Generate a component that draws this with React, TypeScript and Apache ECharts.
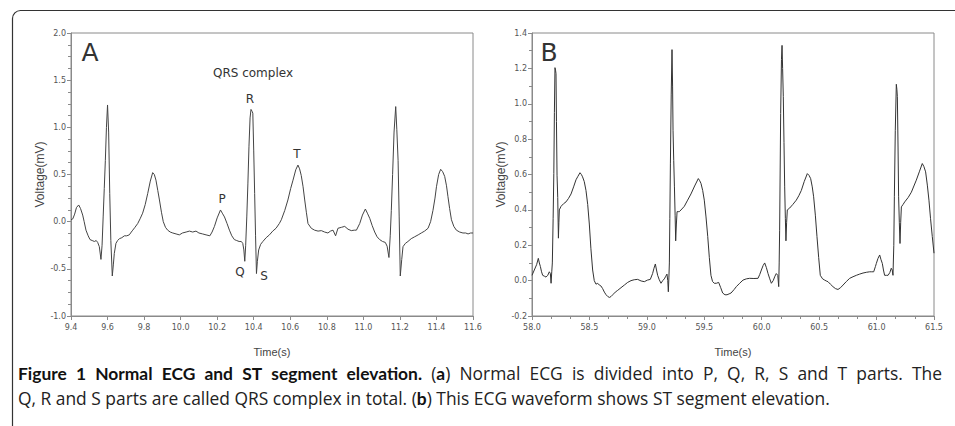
import React, { useEffect, useRef } from "react";
import * as echarts from "echarts";

// Panel A: normal ECG (time in s, voltage in mV)
const timeA = [
  9.400, 9.410, 9.420, 9.430, 9.442, 9.452, 9.464, 9.472, 9.482, 9.494, 9.504, 9.516, 9.528, 9.538, 9.546, 9.555,
  9.564, 9.570, 9.576, 9.582, 9.588, 9.594, 9.600, 9.606, 9.612, 9.618, 9.626, 9.632, 9.637, 9.646, 9.655, 9.665,
  9.678, 9.692, 9.705, 9.719, 9.730, 9.738, 9.750, 9.765, 9.778, 9.792, 9.806, 9.820, 9.834, 9.847, 9.856, 9.865,
  9.875, 9.884, 9.895, 9.905, 9.917, 9.929, 9.943, 9.957, 9.975, 9.993, 10.010, 10.030, 10.048, 10.066, 10.084, 10.100,
  10.120, 10.139, 10.160, 10.172, 10.185, 10.200, 10.218, 10.228, 10.240, 10.254, 10.267, 10.280, 10.294, 10.307, 10.320, 10.332,
  10.340, 10.346, 10.351, 10.356, 10.362, 10.368, 10.374, 10.380, 10.385, 10.391, 10.395, 10.400, 10.405, 10.410, 10.415, 10.420,
  10.427, 10.438, 10.450, 10.468, 10.486, 10.504, 10.522, 10.540, 10.551, 10.570, 10.587, 10.602, 10.615, 10.630, 10.642, 10.651,
  10.660, 10.670, 10.679, 10.688, 10.697, 10.715, 10.733, 10.752, 10.770, 10.788, 10.806, 10.820, 10.834, 10.848, 10.861, 10.880,
  10.898, 10.916, 10.934, 10.950, 10.962, 10.980, 10.995, 11.011, 11.022, 11.035, 11.048, 11.062, 11.075, 11.089, 11.105, 11.120,
  11.130, 11.140, 11.147, 11.153, 11.160, 11.168, 11.177, 11.183, 11.190, 11.196, 11.202, 11.210, 11.217, 11.230, 11.244, 11.262,
  11.281, 11.300, 11.317, 11.335, 11.354, 11.368, 11.381, 11.392, 11.400, 11.412, 11.423, 11.434, 11.445, 11.455, 11.463, 11.472,
  11.482, 11.495, 11.509, 11.527, 11.545, 11.560, 11.573, 11.587, 11.600,
];
const voltA = [
  0.02, 0.03, 0.08, 0.15, 0.177, 0.14, 0.07, 0.00, -0.09, -0.15, -0.19, -0.20, -0.21, -0.20, -0.22, -0.265,
  -0.40, -0.25, 0.05, 0.35, 0.65, 1.00, 1.237, 0.95, 0.30, -0.20, -0.576, -0.45, -0.336, -0.23, -0.20, -0.18,
  -0.17, -0.15, -0.15, -0.14, -0.11, -0.09, -0.06, -0.02, 0.03, 0.09, 0.18, 0.30, 0.43, 0.52, 0.50, 0.44,
  0.33, 0.23, 0.10, 0.00, -0.06, -0.09, -0.11, -0.12, -0.13, -0.14, -0.12, -0.11, -0.10, -0.11, -0.10, -0.12,
  -0.13, -0.14, -0.15, -0.11, -0.05, 0.04, 0.124, 0.09, 0.05, -0.02, -0.09, -0.15, -0.19, -0.20, -0.21, -0.21,
  -0.23, -0.30, -0.42, -0.25, 0.05, 0.40, 0.80, 1.10, 1.19, 1.17, 1.15, 0.75, 0.30, -0.15, -0.55, -0.42,
  -0.30, -0.24, -0.21, -0.17, -0.14, -0.10, -0.07, -0.02, 0.02, 0.12, 0.23, 0.35, 0.44, 0.55, 0.60, 0.56,
  0.49, 0.37, 0.23, 0.10, -0.02, -0.07, -0.09, -0.10, -0.095, -0.11, -0.12, -0.10, -0.09, -0.15, -0.07, -0.06,
  -0.05, -0.08, -0.095, -0.09, -0.09, -0.02, 0.07, 0.134, 0.09, 0.035, -0.04, -0.11, -0.16, -0.19, -0.21, -0.22,
  -0.26, -0.38, -0.15, 0.12, 0.50, 0.95, 1.22, 0.98, 0.65, 0.05, -0.576, -0.40, -0.265, -0.23, -0.21, -0.18,
  -0.16, -0.14, -0.12, -0.10, -0.07, 0.00, 0.12, 0.25, 0.37, 0.50, 0.555, 0.53, 0.48, 0.38, 0.265, 0.14,
  0.02, -0.05, -0.09, -0.11, -0.12, -0.12, -0.13, -0.12, -0.12,
];

// Panel B: ST segment elevation
const timeB = [
  58.000, 58.020, 58.040, 58.055, 58.064, 58.073, 58.083, 58.093, 58.108, 58.122, 58.137, 58.151, 58.160, 58.166, 58.172, 58.177,
  58.184, 58.190, 58.195, 58.200, 58.205, 58.209, 58.213, 58.218, 58.224, 58.230, 58.234, 58.238, 58.253, 58.275, 58.296, 58.318,
  58.340, 58.362, 58.383, 58.400, 58.418, 58.430, 58.440, 58.455, 58.470, 58.485, 58.499, 58.513, 58.528, 58.542, 58.557, 58.572,
  58.586, 58.600, 58.615, 58.630, 58.645, 58.660, 58.674, 58.688, 58.703, 58.725, 58.746, 58.775, 58.804, 58.833, 58.862, 58.890,
  58.920, 58.950, 58.978, 59.005, 59.030, 59.050, 59.062, 59.074, 59.084, 59.094, 59.108, 59.123, 59.138, 59.152, 59.165, 59.175,
  59.182, 59.187, 59.192, 59.196, 59.200, 59.205, 59.212, 59.219, 59.224, 59.228, 59.234, 59.240, 59.246, 59.251, 59.257, 59.263,
  59.273, 59.283, 59.305, 59.326, 59.355, 59.384, 59.416, 59.448, 59.460, 59.471, 59.486, 59.500, 59.515, 59.530, 59.544, 59.558,
  59.572, 59.587, 59.605, 59.625, 59.643, 59.660, 59.680, 59.698, 59.716, 59.733, 59.760, 59.779, 59.808, 59.837, 59.866, 59.895,
  59.932, 59.968, 59.983, 59.997, 60.012, 60.026, 60.040, 60.055, 60.070, 60.084, 60.100, 60.115, 60.127, 60.140, 60.148, 60.152,
  60.156, 60.165, 60.172, 60.177, 60.182, 60.188, 60.194, 60.200, 60.206, 60.211, 60.217, 60.223, 60.243, 60.270, 60.301, 60.323,
  60.345, 60.370, 60.397, 60.412, 60.426, 60.440, 60.452, 60.467, 60.481, 60.496, 60.510, 60.530, 60.548, 60.562, 60.577, 60.598,
  60.620, 60.642, 60.664, 60.686, 60.708, 60.737, 60.766, 60.795, 60.824, 60.853, 60.882, 60.911, 60.940, 60.958, 60.975, 60.990,
  60.998, 61.012, 61.027, 61.038, 61.050, 61.060, 61.070, 61.085, 61.100, 61.115, 61.128, 61.136, 61.143, 61.150, 61.155, 61.163,
  61.172, 61.177, 61.181, 61.187, 61.192, 61.198, 61.204, 61.210, 61.216, 61.230, 61.245, 61.275, 61.303, 61.325, 61.346, 61.372,
  61.398, 61.412, 61.427, 61.442, 61.456, 61.470, 61.485, 61.500,
];
const voltB = [
  0.03, 0.06, 0.09, 0.126, 0.10, 0.08, 0.05, 0.03, 0.025, 0.02, 0.03, 0.05, 0.04, -0.015, 0.05, 0.10,
  0.35, 0.605, 0.95, 1.204, 1.19, 1.17, 0.90, 0.596, 0.47, 0.24, 0.33, 0.40, 0.42, 0.435, 0.445, 0.465,
  0.49, 0.53, 0.57, 0.59, 0.61, 0.60, 0.587, 0.56, 0.51, 0.43, 0.32, 0.18, 0.06, 0.00, -0.02, -0.015,
  -0.025, -0.03, -0.045, -0.065, -0.08, -0.09, -0.095, -0.09, -0.08, -0.065, -0.055, -0.04, -0.025, -0.01, 0.00, 0.005,
  0.007, -0.002, -0.006, 0.003, 0.007, 0.04, 0.07, 0.094, 0.06, 0.03, 0.005, -0.015, 0.00, 0.01, 0.025, 0.037,
  0.00, -0.063, 0.02, 0.10, 0.35, 0.66, 1.05, 1.306, 1.10, 0.85, 0.68, 0.53, 0.37, 0.225, 0.32, 0.39,
  0.39, 0.39, 0.405, 0.42, 0.455, 0.49, 0.535, 0.577, 0.565, 0.55, 0.51, 0.455, 0.36, 0.25, 0.13, 0.03,
  -0.005, -0.015, -0.015, -0.01, -0.04, -0.07, -0.08, -0.08, -0.075, -0.07, -0.05, -0.034, -0.015, 0.003, 0.01, 0.013,
  0.012, 0.013, 0.035, 0.06, 0.085, 0.10, 0.075, 0.04, 0.01, -0.015, 0.00, 0.025, 0.04, 0.03, -0.034, 0.10,
  0.285, 0.945, 1.25, 1.33, 1.20, 1.04, 0.78, 0.53, 0.35, 0.225, 0.33, 0.40, 0.41, 0.43, 0.455, 0.48,
  0.51, 0.56, 0.605, 0.595, 0.577, 0.53, 0.474, 0.37, 0.25, 0.13, 0.03, 0.01, 0.003, -0.002, -0.006, -0.02,
  -0.034, -0.045, -0.05, -0.04, -0.025, -0.005, 0.013, 0.022, 0.03, 0.037, 0.043, 0.047, 0.05, 0.05, 0.05, 0.08,
  0.097, 0.125, 0.145, 0.12, 0.097, 0.06, 0.03, 0.03, 0.03, 0.045, 0.07, 0.06, 0.03, 0.20, 0.474, 0.85,
  1.11, 1.08, 1.04, 0.75, 0.474, 0.33, 0.21, 0.33, 0.417, 0.43, 0.445, 0.47, 0.50, 0.535, 0.568, 0.615,
  0.662, 0.645, 0.615, 0.54, 0.455, 0.35, 0.25, 0.155,
];

const xAxisA = { min: 9.4, max: 11.6, interval: 0.2 };
const yAxisA = { min: -1.0, max: 2.0, interval: 0.5 };
const xAxisB = { min: 58.0, max: 61.5, interval: 0.5 };
const yAxisB = { min: -0.2, max: 1.4, interval: 0.2 };

const xName = "Time(s)";
const yName = "Voltage(mV)";
// Caption words; {b|...} marks bold runs. Line 1 is justified, line 2 is left-aligned.
const captionLine1Words = [
  "{b|Figure}", "{b|1}", "{b|Normal}", "{b|ECG}", "{b|and}", "{b|ST}", "{b|segment}", "{b|elevation.}",
  "({b|a})", "Normal", "ECG", "is", "divided", "into", "P,", "Q,", "R,", "S", "and", "T", "parts.", "The",
];
const captionLine2 =
  "Q, R and S parts are called QRS complex in total. ({b|b}) This ECG waveform shows ST segment elevation.";

const zip = (t: number[], v: number[]) => t.map((x, i) => [x, v[i]]);

const axisGray = "#8a8a8a";
const labelStyle = { fontSize: 8, color: "#555", fontFamily: "DejaVu Sans" };
const capSize = 17.4;
const capFamily = "Open Sans";
const capBoldFamily = "Lato";

function makeXAxis(gridIndex: number, cfg: { min: number; max: number; interval: number }, minorSplit: number) {
  return {
    type: "value",
    gridIndex,
    min: cfg.min,
    max: cfg.max,
    interval: cfg.interval,
    name: xName,
    nameLocation: "middle",
    nameGap: 30,
    nameTextStyle: { fontSize: 11, color: "#444", fontFamily: "Liberation Sans" },
    axisLine: { show: true, onZero: false, lineStyle: { color: axisGray, width: 1 } },
    axisTick: { show: true, inside: false, length: 4, lineStyle: { color: axisGray } },
    minorTick: { show: minorSplit > 1, splitNumber: minorSplit, length: 3, lineStyle: { color: axisGray } },
    splitLine: { show: false },
    axisLabel: { ...labelStyle, margin: 7, formatter: (v: number) => v.toFixed(1), showMinLabel: true, showMaxLabel: true },
  };
}

function makeYAxis(gridIndex: number, cfg: { min: number; max: number; interval: number }, minorSplit: number) {
  return {
    type: "value",
    gridIndex,
    min: cfg.min,
    max: cfg.max,
    interval: cfg.interval,
    name: yName,
    nameLocation: "middle",
    nameGap: 24,
    nameRotate: 90,
    nameTextStyle: { fontSize: 12, color: "#444", fontFamily: "Liberation Sans" },
    axisLine: { show: true, onZero: false, lineStyle: { color: axisGray, width: 1 } },
    axisTick: { show: true, inside: false, length: 4, lineStyle: { color: axisGray } },
    minorTick: { show: true, splitNumber: minorSplit, length: 3, lineStyle: { color: axisGray } },
    splitLine: { show: false },
    axisLabel: { ...labelStyle, margin: 5, formatter: (v: number) => v.toFixed(1) },
  };
}

export default function App() {
  const ref = useRef<HTMLDivElement>(null);
  useEffect(() => {
    document.body.style.margin = "0";
    const chart = echarts.init(ref.current!, undefined, { renderer: "svg" });
    const annot = (text: string, x: number, y: number, size = 12) => ({
      type: "text",
      x,
      y,
      style: {
        text,
        fontSize: size,
        fontFamily: "DejaVu Sans",
        fill: "#333",
        align: "center",
        verticalAlign: "middle",
      },
    });
    const rich = { b: { fontWeight: "bold", fontSize: capSize, fontFamily: capBoldFamily, fill: "#111" } };
    const captionStyle = (text: string) => ({
      text,
      fontSize: capSize,
      fontFamily: capFamily,
      fill: "#222",
      verticalAlign: "middle",
      rich,
    });

    // justify line 1 using canvas text measurement
    const ctx = document.createElement("canvas").getContext("2d")!;
    const measureWord = (w: string) => {
      let total = 0;
      const re = /\{b\|([^}]*)\}|([^{]+)/g;
      let m: RegExpExecArray | null;
      while ((m = re.exec(w))) {
        if (m[1] !== undefined) {
          ctx.font = `bold ${capSize}px ${capBoldFamily}`;
          total += ctx.measureText(m[1]).width;
        } else {
          ctx.font = `${capSize}px ${capFamily}`;
          total += ctx.measureText(m[2]).width;
        }
      }
      return total;
    };
    const lineLeft = 18;
    const lineRight = 942;
    const widths = captionLine1Words.map(measureWord);
    const sum = widths.reduce((a, b) => a + b, 0);
    const gap = (lineRight - lineLeft - sum) / (captionLine1Words.length - 1);
    let cx = lineLeft;
    const line1Elements = captionLine1Words.map((w, i) => {
      const el = { type: "text", x: cx, y: 373, style: captionStyle(w) };
      cx += widths[i] + gap;
      return el;
    });

    chart.setOption({
      animation: false,
      backgroundColor: "#fff",
      grid: [
        { left: 71, top: 33, width: 402, height: 283, show: true, borderColor: axisGray, borderWidth: 1 },
        { left: 532, top: 33, width: 402, height: 283, show: true, borderColor: axisGray, borderWidth: 1 },
      ],
      xAxis: [makeXAxis(0, xAxisA, 1), makeXAxis(1, xAxisB, 3)],
      yAxis: [makeYAxis(0, yAxisA, 4), makeYAxis(1, yAxisB, 2)],
      series: [
        {
          type: "line",
          xAxisIndex: 0,
          yAxisIndex: 0,
          data: zip(timeA, voltA),
          showSymbol: false,
          lineStyle: { color: "#444", width: 1 },
        },
        {
          type: "line",
          xAxisIndex: 1,
          yAxisIndex: 1,
          data: zip(timeB, voltB),
          showSymbol: false,
          lineStyle: { color: "#333", width: 1 },
        },
      ],
      graphic: [
        {
          type: "rect",
          shape: { x: 12.5, y: 10.5, width: 1000, height: 600, r: 8 },
          style: { fill: "none", stroke: "#333", lineWidth: 1.2 },
          silent: true,
        },
        annot("A", 90, 52, 25),
        annot("B", 549, 52, 25),
        annot("QRS complex", 253, 73, 12),
        annot("R", 250, 99, 12),
        annot("T", 297, 154, 12),
        annot("P", 222, 199, 12),
        annot("Q", 240, 272, 12),
        annot("S", 264, 276, 12),
        ...line1Elements,
        { type: "text", x: lineLeft, y: 398, style: captionStyle(captionLine2) },
      ],
    });
    return () => chart.dispose();
  }, []);
  return <div ref={ref} style={{ width: 955, height: 426 }} />;
}
